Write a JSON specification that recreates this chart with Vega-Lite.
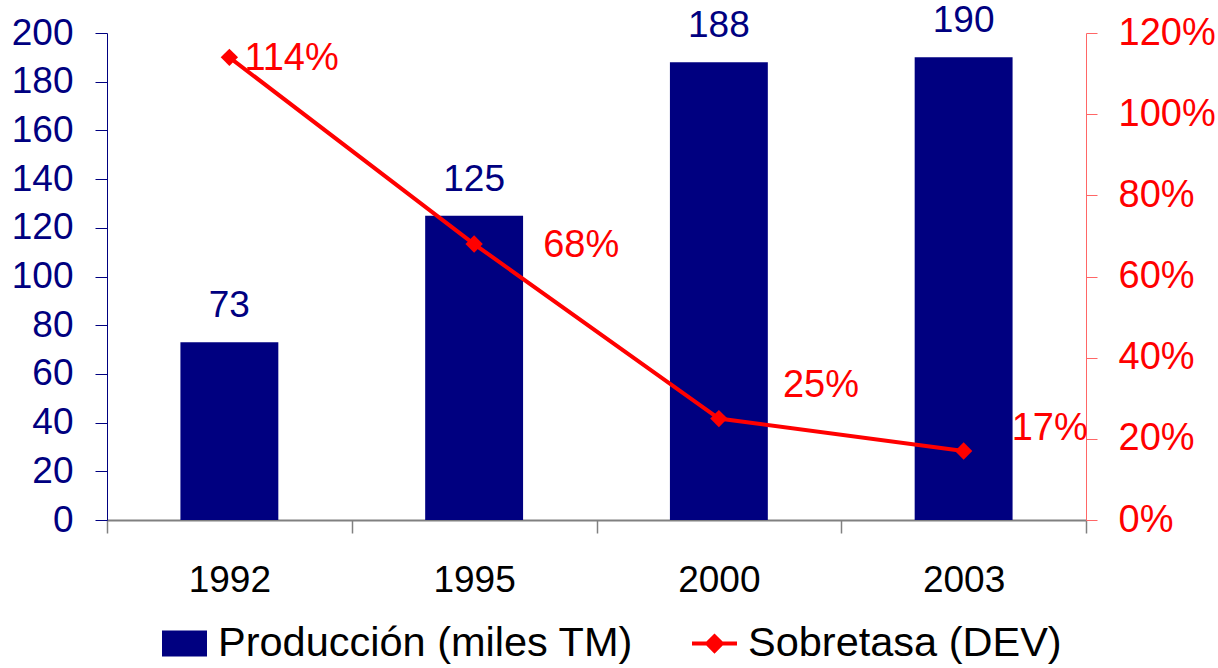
{
  "$schema": "https://vega.github.io/schema/vega-lite/v6.json",
  "width": 979,
  "height": 487,
  "autosize": "none",
  "padding": {"left": 107, "top": 33, "right": 132, "bottom": 148},
  "config": {"view": {"stroke": null}, "font": "Liberation Sans", "text": {"font": "Liberation Sans"}},
  "data": {"values": [
    {"year": "1992", "produccion": 73, "sobretasa": 1.14},
    {"year": "1995", "produccion": 125, "sobretasa": 0.68},
    {"year": "2000", "produccion": 188, "sobretasa": 0.25},
    {"year": "2003", "produccion": 190, "sobretasa": 0.17}
  ]},
  "encoding": {
    "x": {
      "field": "year", "type": "ordinal",
      "scale": {"paddingInner": 0, "paddingOuter": 0},
      "axis": {
        "title": null, "labelAngle": 0, "labelFontSize": 37, "labelColor": "#000000",
        "labelFont": "Liberation Sans",
        "domainColor": "#808080", "domainWidth": 2, "tickColor": "#808080", "tickWidth": 1.5,
        "tickSize": 13, "tickBand": "extent", "labelPadding": 29
      }
    }
  },
  "layer": [
    {
      "layer": [
        {
          "mark": {"type": "bar", "color": "#000080", "width": {"band": 0.4}},
          "encoding": {
            "y": {
              "field": "produccion", "type": "quantitative",
              "scale": {"domain": [0, 200]},
              "axis": {
                "title": null, "grid": false, "values": [0, 20, 40, 60, 80, 100, 120, 140, 160, 180, 200],
                "labelFontSize": 37, "labelColor": "#000080", "labelFont": "Liberation Sans",
                "domainColor": "#000080", "tickColor": "#000080", "tickSize": 12, "labelPadding": 22
              }
            },
            "color": {
              "datum": "Producción (miles TM)", "type": "nominal",
              "scale": {"domain": ["Producción (miles TM)", "Sobretasa (DEV)"], "range": ["#000080", "#ff0000"]},
              "legend": {
                "orient": "none", "legendX": 55, "legendY": 588, "direction": "horizontal",
                "title": null, "labelFontSize": 41.5, "labelColor": "#000000", "labelFont": "Liberation Sans",
                "labelLimit": 1000, "symbolSize": 2025, "labelOffset": 11, "columnPadding": 58,
                "encode": {
                  "symbols": {
                    "update": {
                      "shape": {"signal": "datum.value === 'Producción (miles TM)' ? 'M-1,-0.58L1,-0.58L1,0.58L-1,0.58Z' : 'M-1,-0.09L1,-0.09L1,0.09L-1,0.09Z M0,-0.45L0.45,0L0,0.45L-0.45,0Z'"},
                      "fill": {"signal": "datum.value === 'Producción (miles TM)' ? '#000080' : '#ff0000'"},
                      "strokeWidth": {"value": 0},
                      "opacity": {"value": 1},
                      "size": {"value": 2025}
                    }
                  }
                }
              }
            }
          }
        },
        {
          "mark": {"type": "text", "baseline": "alphabetic", "align": "center", "dy": -25, "fontSize": 37, "color": "#000080", "font": "Liberation Sans"},
          "encoding": {
            "y": {"field": "produccion", "type": "quantitative"},
            "text": {"field": "produccion", "type": "quantitative"}
          }
        }
      ]
    },
    {
      "layer": [
        {
          "mark": {"type": "line", "color": "#ff0000", "strokeWidth": 4,
                   "point": {"shape": "diamond", "size": 300, "filled": true, "color": "#ff0000"}},
          "encoding": {
            "y": {
              "field": "sobretasa", "type": "quantitative",
              "scale": {"domain": [0, 1.2]},
              "axis": {
                "orient": "right", "title": null, "grid": false, "format": ".0%",
                "values": [0, 0.2, 0.4, 0.6, 0.8, 1.0, 1.2],
                "labelFontSize": 38, "labelColor": "#ff0000", "labelFont": "Liberation Sans",
                "domainColor": "#ff6666", "tickColor": "#ff6666", "tickSize": 11, "labelPadding": 21
              }
            }
          }
        },
        {
          "transform": [{"filter": "datum.year == '1992'"}],
          "mark": {"type": "text", "align": "left", "baseline": "alphabetic", "dx": 15, "dy": 13, "fontSize": 38, "color": "#ff0000", "font": "Liberation Sans"},
          "encoding": {"y": {"field": "sobretasa", "type": "quantitative"}, "text": {"field": "sobretasa", "type": "quantitative", "format": ".0%"}}
        },
        {
          "transform": [{"filter": "datum.year == '1995'"}],
          "mark": {"type": "text", "align": "left", "baseline": "alphabetic", "dx": 69, "dy": 13, "fontSize": 38, "color": "#ff0000", "font": "Liberation Sans"},
          "encoding": {"y": {"field": "sobretasa", "type": "quantitative"}, "text": {"field": "sobretasa", "type": "quantitative", "format": ".0%"}}
        },
        {
          "transform": [{"filter": "datum.year == '2000'"}],
          "mark": {"type": "text", "align": "left", "baseline": "alphabetic", "dx": 64, "dy": -22, "fontSize": 38, "color": "#ff0000", "font": "Liberation Sans"},
          "encoding": {"y": {"field": "sobretasa", "type": "quantitative"}, "text": {"field": "sobretasa", "type": "quantitative", "format": ".0%"}}
        },
        {
          "transform": [{"filter": "datum.year == '2003'"}],
          "mark": {"type": "text", "align": "left", "baseline": "alphabetic", "dx": 48, "dy": -11, "fontSize": 38, "color": "#ff0000", "font": "Liberation Sans"},
          "encoding": {"y": {"field": "sobretasa", "type": "quantitative"}, "text": {"field": "sobretasa", "type": "quantitative", "format": ".0%"}}
        }
      ]
    }
  ],
  "resolve": {"scale": {"y": "independent"}}
}
